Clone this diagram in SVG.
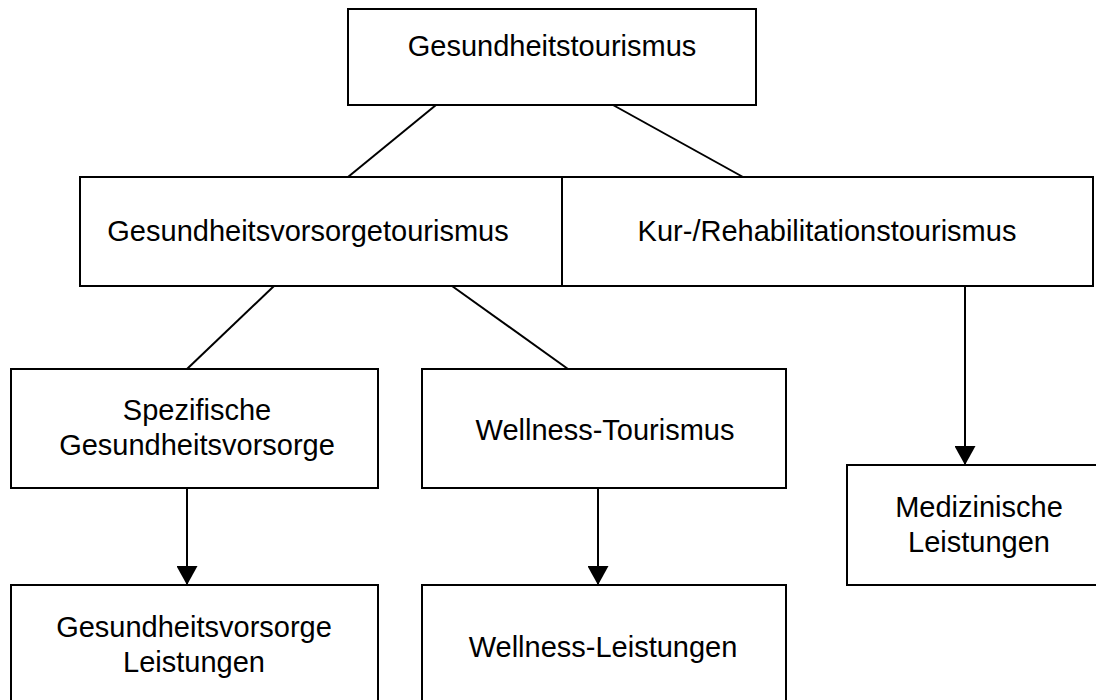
<svg xmlns="http://www.w3.org/2000/svg" width="1096" height="700" viewBox="0 0 1096 700">
<style>
.box{fill:#fff;stroke:#000;stroke-width:2}
.ln{stroke:#000;stroke-width:2;fill:none}
.t{font-family:"Liberation Sans",Arial,sans-serif;font-size:29px;fill:#000;text-anchor:middle}
</style>
<defs>
<marker id="ah" viewBox="0 0 19 21" refX="19" refY="10.5" markerWidth="19" markerHeight="21" markerUnits="userSpaceOnUse" orient="auto">
<path d="M0,0 L19,10.5 L0,21 z" fill="#000"/>
</marker>
</defs>
<rect width="1096" height="700" fill="#fff"/>
<g id="connectors">
<line class="ln" x1="436" y1="105" x2="348" y2="177"/>
<line class="ln" x1="613" y1="105" x2="743" y2="177"/>
<line class="ln" x1="274" y1="286" x2="187" y2="369"/>
<line class="ln" x1="452" y1="286" x2="568" y2="369"/>
<line class="ln" x1="187" y1="488" x2="187" y2="585" marker-end="url(#ah)"/>
<line class="ln" x1="598" y1="488" x2="598" y2="585" marker-end="url(#ah)"/>
<line class="ln" x1="965" y1="286" x2="965" y2="465" marker-end="url(#ah)"/>
</g>
<g id="n-top">
<rect class="box" x="348" y="9" width="408" height="96"/>
<text class="t" x="552" y="56">Gesundheitstourismus</text>
</g>
<g id="n-vorsorge">
<rect class="box" x="80" y="177" width="482" height="109"/>
<text class="t" x="308" y="241">Gesundheitsvorsorgetourismus</text>
</g>
<g id="n-kur">
<rect class="box" x="562" y="177" width="531" height="109"/>
<text class="t" x="827" y="241">Kur-/Rehabilitationstourismus</text>
</g>
<g id="n-spez">
<rect class="box" x="11" y="369" width="367" height="119"/>
<text class="t" x="197" y="420">Spezifische</text>
<text class="t" x="197" y="455">Gesundheitsvorsorge</text>
</g>
<g id="n-wellness">
<rect class="box" x="422" y="369" width="364" height="119"/>
<text class="t" x="605" y="440">Wellness-Tourismus</text>
</g>
<g id="n-med">
<rect class="box" x="847" y="465" width="270" height="120"/>
<text class="t" x="979" y="517">Medizinische</text>
<text class="t" x="979" y="552">Leistungen</text>
</g>
<g id="n-gvl">
<rect class="box" x="11" y="585" width="367" height="125"/>
<text class="t" x="194" y="637">Gesundheitsvorsorge</text>
<text class="t" x="194" y="672">Leistungen</text>
</g>
<g id="n-wl">
<rect class="box" x="422" y="585" width="364" height="125"/>
<text class="t" x="603" y="657">Wellness-Leistungen</text>
</g>
</svg>
